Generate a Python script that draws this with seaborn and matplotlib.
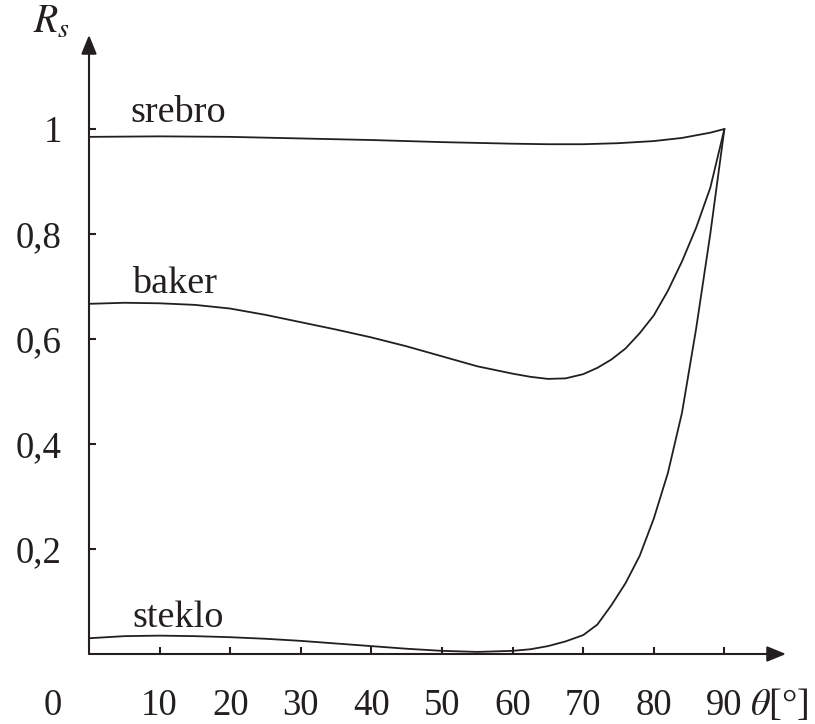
import matplotlib
matplotlib.use("Agg")
import matplotlib.pyplot as plt
import seaborn as sns
import pandas as pd
from matplotlib.patches import ArrowStyle

# ---- data ----
srebro_theta = [0, 10, 20, 30, 40, 50, 60, 65, 70, 75, 80, 84, 88, 90]
srebro_R = [0.985, 0.986, 0.985, 0.982, 0.979, 0.975, 0.972, 0.971, 0.971,
            0.973, 0.977, 0.983, 0.993, 1.0]

baker_theta = [0, 5, 10, 15, 20, 25, 30, 35, 40, 45, 50, 55, 60, 62.5, 65,
               67.5, 70, 72, 74, 76, 78, 80, 82, 84, 86, 88, 90]
baker_R = [0.667, 0.669, 0.668, 0.665, 0.658, 0.646, 0.632, 0.618, 0.603,
           0.586, 0.567, 0.548, 0.534, 0.528, 0.524, 0.525, 0.533, 0.545,
           0.561, 0.582, 0.611, 0.645, 0.692, 0.748, 0.812, 0.888, 1.0]

steklo_theta = [0, 5, 10, 15, 20, 25, 30, 35, 40, 45, 50, 55, 60, 62.5, 65,
                67.5, 70, 72, 74, 76, 78, 80, 82, 84, 86, 88, 90]
steklo_R = [0.030, 0.034, 0.035, 0.034, 0.032, 0.029, 0.025, 0.020, 0.015,
            0.010, 0.006, 0.004, 0.006, 0.009, 0.015, 0.024, 0.036, 0.056,
            0.093, 0.135, 0.187, 0.258, 0.345, 0.460, 0.620, 0.800, 1.0]

labels = ["srebro", "baker", "steklo"]
label_pos = [(5.9, 1.013), (6.1, 0.688), (6.1, 0.051)]

x_ticks = [10, 20, 30, 40, 50, 60, 70, 80, 90]
x_ticklabels = ["10", "20", "30", "40", "50", "60", "70", "80", "90"]
y_ticks = [0.2, 0.4, 0.6, 0.8, 1.0]
y_ticklabels = ["0,2", "0,4", "0,6", "0,8", "1"]

df = pd.concat([
    pd.DataFrame({"theta": srebro_theta, "R": srebro_R, "m": "srebro"}),
    pd.DataFrame({"theta": baker_theta, "R": baker_R, "m": "baker"}),
    pd.DataFrame({"theta": steklo_theta, "R": steklo_R, "m": "steklo"}),
], ignore_index=True)

# ---- style ----
sns.set_theme(style="white")
plt.rcParams["font.family"] = ["Liberation Serif", "DejaVu Serif"]
plt.rcParams["mathtext.fontset"] = "stix"
INK = "#231f20"
FS = 26.5

fig = plt.figure(figsize=(8.15, 7.24), dpi=100)
W, H = 815, 724
ax = fig.add_axes([89 / W, (H - 654) / H, (786 - 89) / W, (654 - 35) / H])

sns.lineplot(data=df, x="theta", y="R", hue="m", units="m", estimator=None,
             palette={l: INK for l in labels}, linewidth=1.3, legend=False,
             sort=True, ax=ax)
for ln in ax.get_lines():
    ln.set_solid_joinstyle("round")

ax.set_xlim(0, (786 - 89) / 7.06)
ax.set_ylim(0, (654 - 35) / 525)

for s in ax.spines.values():
    s.set_visible(False)

ax.set_xticks(x_ticks)
ax.set_xticklabels(x_ticklabels)
ax.set_yticks(y_ticks)
ax.set_yticklabels(y_ticklabels)
ax.tick_params(axis="x", direction="in", length=5, width=1.5, color=INK,
               labelsize=FS, labelcolor=INK, pad=25, bottom=True)
ax.tick_params(axis="y", direction="in", length=5, width=1.5, color=INK,
               labelsize=FS, labelcolor=INK, pad=19.5, left=True)
ax.set_xlabel("")
ax.set_ylabel("")

# axes with arrows
style = ArrowStyle("-|>", head_length=11.5, head_width=4.7)
for end in [(1, 0), (0, 1)]:
    ax.annotate("", xy=end, xytext=(0, 0), xycoords="axes fraction",
                textcoords="axes fraction",
                arrowprops=dict(arrowstyle=style, mutation_scale=1, lw=1.5,
                                color=INK, shrinkA=0, shrinkB=0),
                annotation_clip=False)

# curve labels
for lab, (x, y) in zip(labels, label_pos):
    ax.text(x, y, lab, fontsize=FS + 1, color=INK, ha="left", va="baseline")

# origin label
ax.annotate("0", xy=(0, 0), xycoords="data", xytext=(-36, -61),
            textcoords="offset pixels", ha="center", va="baseline",
            fontsize=FS, color=INK, annotation_clip=False)

# axis titles
fig.text(33 / W, 1 - 33 / H, r"$R_s$", fontsize=FS + 2, color=INK,
         ha="left", va="baseline")
fig.text(750 / W, 1 - 715 / H, r"$\theta$[°]", fontsize=FS + 1, color=INK,
         ha="left", va="baseline")

fig.savefig("out.png", dpi=100)
